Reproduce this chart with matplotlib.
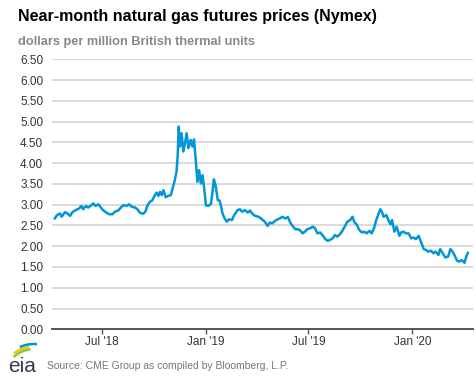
import numpy as np
import pandas as pd
import matplotlib
matplotlib.use("Agg")
import matplotlib.pyplot as plt
import matplotlib.dates as mdates
from matplotlib.patches import Arc

plt.rcParams["font.family"] = ["Liberation Sans", "DejaVu Sans"]

# datos (dias desde la primera observacion, $/MMBtu)
start = pd.Timestamp("2018-04-09")
day = [0, 4, 9, 12, 18, 22, 27, 31, 37, 43,
       47, 50, 55, 59, 63, 68, 72, 77, 81, 85,
       91, 96, 102, 106, 112, 118, 122, 127, 131, 136,
       142, 146, 150, 156, 160, 164, 168, 172, 176, 180,
       183, 186, 189, 192, 196, 200, 205, 209, 212, 215,
       217, 219, 221, 224, 227, 230, 233, 236, 240, 243,
       246, 249, 252, 255, 258, 261, 264, 267, 271, 276,
       279, 281, 284, 288, 291, 294, 296, 300, 304, 308,
       313, 317, 323, 327, 331, 336, 341, 345, 349, 354,
       360, 366, 371, 376, 380, 384, 389, 394, 398, 402,
       407, 412, 416, 420, 425, 429, 433, 438, 442, 446,
       451, 456, 460, 464, 469, 474, 478, 482, 486, 491,
       495, 499, 504, 509, 513, 517, 522, 526, 529, 534,
       538, 543, 547, 551, 556, 560, 564, 568, 572, 575,
       578, 581, 586, 590, 593, 596, 600, 604, 609, 612,
       616, 620, 625, 630, 634, 638, 643, 647, 652, 656,
       660, 665, 669, 673, 678, 681, 685, 690, 695, 699,
       703, 706, 711, 715, 719, 724, 727, 730]
price = [2.67, 2.75, 2.79, 2.71, 2.82, 2.79, 2.73, 2.82, 2.87, 2.91,
         2.97, 2.89, 2.97, 2.93, 2.97, 3.03, 2.97, 3.01, 2.94, 2.87,
         2.81, 2.77, 2.77, 2.83, 2.86, 2.95, 2.99, 2.97, 3.01, 2.95,
         2.93, 2.89, 2.81, 2.78, 2.83, 2.99, 3.07, 3.10, 3.21, 3.29,
         3.21, 3.31, 3.23, 3.35, 3.18, 3.21, 3.23, 3.43, 3.59, 3.79,
         4.16, 4.88, 4.40, 4.72, 4.28, 4.48, 4.72, 4.36, 4.56, 4.40,
         4.57, 4.08, 3.55, 3.83, 3.51, 3.71, 3.39, 2.99, 2.97, 3.02,
         3.35, 3.61, 3.47, 3.11, 3.10, 2.95, 2.80, 2.67, 2.59, 2.65,
         2.63, 2.75, 2.87, 2.89, 2.83, 2.87, 2.81, 2.86, 2.78, 2.73,
         2.71, 2.65, 2.59, 2.49, 2.57, 2.55, 2.61, 2.65, 2.67, 2.71,
         2.67, 2.70, 2.57, 2.49, 2.41, 2.41, 2.39, 2.31, 2.35, 2.41,
         2.43, 2.47, 2.43, 2.31, 2.33, 2.25, 2.17, 2.13, 2.15, 2.19,
         2.27, 2.23, 2.29, 2.39, 2.49, 2.59, 2.63, 2.71, 2.59, 2.51,
         2.39, 2.33, 2.35, 2.31, 2.37, 2.31, 2.43, 2.63, 2.78, 2.89,
         2.83, 2.71, 2.75, 2.61, 2.53, 2.63, 2.35, 2.47, 2.25, 2.33,
         2.35, 2.31, 2.31, 2.19, 2.21, 2.17, 2.25, 2.11, 1.93, 1.91,
         1.87, 1.89, 1.83, 1.87, 1.79, 1.93, 1.84, 1.73, 1.75, 1.93,
         1.87, 1.79, 1.65, 1.63, 1.67, 1.60, 1.75, 1.84]
yticks = np.arange(0, 6.51, 0.5)

dates = start + pd.to_timedelta(day, unit="D")

W, H = 477, 379
fig = plt.figure(figsize=(W / 100, H / 100), dpi=100)
ax = fig.add_axes([52 / W, 1 - 329.3 / H, (473 - 52) / W, (329.3 - 59.3) / H])

ax.plot(dates, price, color="#0096d7", lw=1.8, solid_joinstyle="round")

ax.set_ylim(0, 6.5)
ax.set_yticks(yticks)
ax.yaxis.set_major_formatter(lambda v, p: f"{v:.2f}")
ax.set_xlim(pd.Timestamp("2018-04-04"), pd.Timestamp("2020-04-17"))
ax.xaxis.set_major_locator(mdates.MonthLocator(bymonth=[1, 7]))
ax.xaxis.set_major_formatter(mdates.DateFormatter("%b '%y"))

ax.grid(axis="y", color="#d9d9d9", lw=1.4)
ax.set_axisbelow(True)
for s in ["top", "right", "left"]:
    ax.spines[s].set_visible(False)
ax.spines["bottom"].set_color("#555555")
ax.spines["bottom"].set_linewidth(1.4)
ax.tick_params(axis="y", length=0, pad=6.3, labelsize=8.5, labelcolor="#333333")
ax.tick_params(axis="x", length=3.5, width=1, color="#555555", pad=1.5,
               labelsize=8.5, labelcolor="#333333")

# textos
fig.text(18 / W, 1 - 17 / H, "Near-month natural gas futures prices (Nymex)",
         fontsize=11.5, fontweight="bold", color="#000000", va="center")
fig.text(18 / W, 1 - 42 / H, "dollars per million British thermal units",
         fontsize=9.2, fontweight="bold", color="#888888", va="center")
fig.text(47 / W, 1 - 366 / H, "Source: CME Group as compiled by Bloomberg, L.P.",
         fontsize=7.5, color="#777777", va="center")

# logo eia
lg = fig.add_axes([0, 0, 60 / W, 50 / H])
lg.set_xlim(0, 60)
lg.set_ylim(0, 50)
lg.axis("off")
lg.text(8, 12, "eia", fontsize=15, color="#2f3d4c", va="center", ha="left")
lg.add_patch(Arc((34, 0), 60, 60, theta1=97, theta2=133, color="#8dc63f", lw=1.8))
lg.add_patch(Arc((34, 0), 65, 65, theta1=99, theta2=128, color="#f7c600", lw=1.8))
lg.add_patch(Arc((34, 0), 70, 70, theta1=85, theta2=114, color="#0096d7", lw=1.8))

fig.savefig("out.png", dpi=100)
